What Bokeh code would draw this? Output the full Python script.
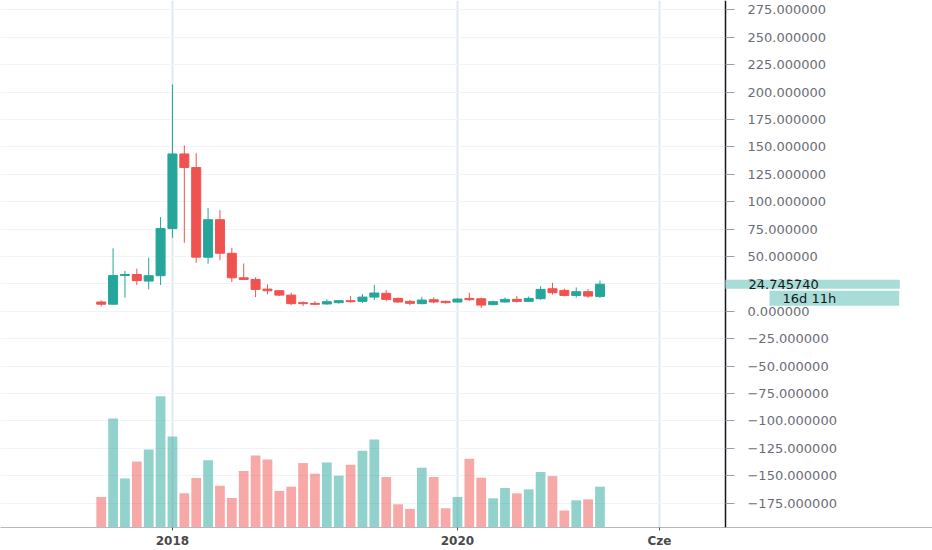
from bokeh.plotting import figure
from bokeh.models import Range1d, FixedTicker, Label, ColumnDataSource, BoxAnnotation
from bokeh.embed import file_html
from bokeh.resources import INLINE

# ---- data (monthly candles) ----
months = ["2017-07", "2017-08", "2017-09", "2017-10", "2017-11", "2017-12",
          "2018-01", "2018-02", "2018-03", "2018-04", "2018-05", "2018-06",
          "2018-07", "2018-08", "2018-09", "2018-10", "2018-11", "2018-12",
          "2019-01", "2019-02", "2019-03", "2019-04", "2019-05", "2019-06",
          "2019-07", "2019-08", "2019-09", "2019-10", "2019-11", "2019-12",
          "2020-01", "2020-02", "2020-03", "2020-04", "2020-05", "2020-06",
          "2020-07", "2020-08", "2020-09", "2020-10", "2020-11", "2020-12",
          "2021-01"]
opens = [8.5, 6.5, 32.7, 33.6, 27.6, 32.5, 75.5, 143.6, 131.2, 49.4, 83.6, 53.0,
         30.6, 29.1, 20.3, 18.8, 14.8, 7.9, 7.2, 6.7, 7.9, 9.7, 9.1, 13.0,
         16.4, 11.8, 9.1, 7.0, 10.6, 9.1, 8.5, 11.8, 11.5, 6.1, 8.5, 10.9,
         9.1, 11.5, 20.6, 19.1, 14.5, 17.9, 13.6]
highs = [10.0, 57.5, 37.0, 39.0, 49.0, 86.0, 207.0, 151.5, 144.3, 94.3, 92.4, 58.0,
         43.6, 31.0, 24.5, 19.4, 17.0, 9.1, 9.4, 11.0, 10.3, 13.9, 15.8, 24.2,
         19.4, 12.7, 10.3, 13.3, 12.7, 9.7, 11.8, 17.0, 12.4, 9.7, 12.7, 13.9,
         13.6, 23.0, 26.0, 20.6, 21.8, 20.3, 28.2]
lows = [4.5, 6.0, 12.5, 24.0, 20.0, 24.0, 67.0, 62.5, 44.3, 43.4, 46.6, 26.7,
        28.5, 13.0, 15.5, 13.9, 5.7, 4.8, 5.5, 6.0, 7.0, 7.9, 7.6, 10.3,
        9.1, 7.9, 5.7, 6.4, 7.3, 7.0, 7.9, 9.4, 3.0, 5.5, 7.9, 7.9,
        8.5, 10.6, 15.2, 13.6, 12.4, 12.4, 12.1]
closes = [6.5, 32.7, 33.6, 28.0, 32.5, 75.5, 143.6, 131.2, 49.4, 83.6, 53.0, 30.6,
          29.1, 20.0, 18.8, 14.8, 7.0, 7.0, 6.4, 8.8, 9.7, 8.8, 13.0, 16.7,
          10.9, 8.5, 7.3, 10.3, 8.5, 7.9, 11.2, 10.6, 5.7, 8.8, 10.9, 9.1,
          11.8, 20.0, 17.0, 14.5, 17.9, 13.9, 24.74574]
volumes = [30.6, 109.3, 49.3, 66.3, 78.3, 131.7, 91.3, 34.3, 49.7, 67.4, 42.0, 29.7,
           56.7, 72.3, 68.3, 36.7, 41.0, 64.7, 54.0, 65.3, 52.0, 63.0, 77.0, 88.3,
           50.7, 23.3, 18.7, 60.0, 50.7, 19.3, 30.6, 69.0, 50.0, 29.3, 39.6, 34.3,
           38.3, 55.7, 51.6, 17.0, 27.3, 28.3, 41.0]
time_tick_index = [6, 30, 47]
time_tick_labels = ["2018", "2020", "Cze"]
price_ticks = list(range(-175, 276, 25))
bar_countdown = "16d 11h"

UP = "#26a69a"
DOWN = "#ef5350"

idx = list(range(len(months)))
colors = [UP if c >= o else DOWN for o, c in zip(opens, closes)]
src = ColumnDataSource(dict(
    x=idx, month=months, open=opens, high=highs, low=lows, close=closes,
    volume=volumes, color=colors,
    top=[max(o, c) for o, c in zip(opens, closes)],
    bottom=[min(o, c) for o, c in zip(opens, closes)],
))

# the price scale sits at this bar position (right edge of the candle pane)
pane_end = 52.568

p = figure(width=932, height=550, output_backend="svg", toolbar_location=None,
           y_axis_location="right",
           x_range=Range1d(-8.479, 70.0), y_range=Range1d(-197.27, 283.64),
           min_border_left=0, min_border_top=0, min_border_right=0,
           min_border_bottom=21)
p.outline_line_color = None
p.background_fill_color = "white"
p.border_fill_color = "white"

p.extra_y_ranges = {"vol": Range1d(0, 529)}

# volume
p.vbar(x="x", width=0.82, top="volume", bottom=0, source=src, y_range_name="vol",
       fill_color="color", fill_alpha=0.5, line_color=None)
# candles
p.segment(x0="x", y0="low", x1="x", y1="high", source=src, line_color="color", line_width=1)
p.vbar(x="x", width=0.76, top="top", bottom="bottom", source=src,
       fill_color="color", line_color="color", line_width=1)

# grids
p.ygrid.ticker = FixedTicker(ticks=price_ticks)
p.ygrid.grid_line_color = "#f0f3f8"
p.ygrid.grid_line_width = 1
p.xgrid.ticker = FixedTicker(ticks=time_tick_index)
p.xgrid.grid_line_color = "#e0e9f1"
p.xgrid.grid_line_width = 2
# price-scale area: plain white behind the scale
p.add_layout(BoxAnnotation(left=pane_end, fill_color="white", fill_alpha=1.0,
                           line_color=None, level="underlay"))

# right price axis, pinned at the pane edge
ya = p.yaxis[0]
ya.fixed_location = pane_end
ya.ticker = FixedTicker(ticks=price_ticks)
ya.major_label_overrides = {t: ("\u2212" if t < 0 else "") + f"{abs(t):.6f}" for t in price_ticks}
ya.axis_line_color = "#131722"
ya.axis_line_width = 1.5
ya.major_tick_line_color = "#9a9ea6"
ya.major_tick_in = 0
ya.major_tick_out = 9
ya.minor_tick_line_color = None
ya.major_label_standoff = 13
ya.major_label_text_font = "DejaVu Sans"
ya.major_label_text_font_size = "13px"
ya.major_label_text_color = "#6b6e76"

# bottom time axis
xa = p.xaxis[0]
xa.ticker = FixedTicker(ticks=time_tick_index)
xa.major_label_overrides = dict(zip(time_tick_index, time_tick_labels))
xa.axis_line_color = "#b4b8c0"
xa.major_tick_line_color = "#555555"
xa.major_tick_in = 0
xa.major_tick_out = 3
xa.minor_tick_line_color = None
xa.major_label_standoff = 3
xa.major_label_text_font = "DejaVu Sans"
xa.major_label_text_font_style = "bold"
xa.major_label_text_font_size = "12px"
xa.major_label_text_color = "#4a4a4a"

# last price label and bar countdown
last = closes[-1]
p.add_layout(Label(x=pane_end, y=last, text=f"{last:.6f}",
                   text_align="left", text_baseline="middle",
                   text_font="DejaVu Sans", text_font_size="13px", text_color="#131722",
                   background_fill_color="#a8dcd6",
                   padding=dict(left=23, right=81, top=0, bottom=0)))
p.add_layout(Label(x=pane_end, y=last, y_offset=-14, x_offset=44, text=bar_countdown,
                   text_align="left", text_baseline="middle",
                   text_font="DejaVu Sans", text_font_size="13px", text_color="#131722",
                   background_fill_color="#a8dcd6",
                   padding=dict(left=13, right=63, top=0, bottom=0)))

open("out.html", "w").write(file_html(p, INLINE))
